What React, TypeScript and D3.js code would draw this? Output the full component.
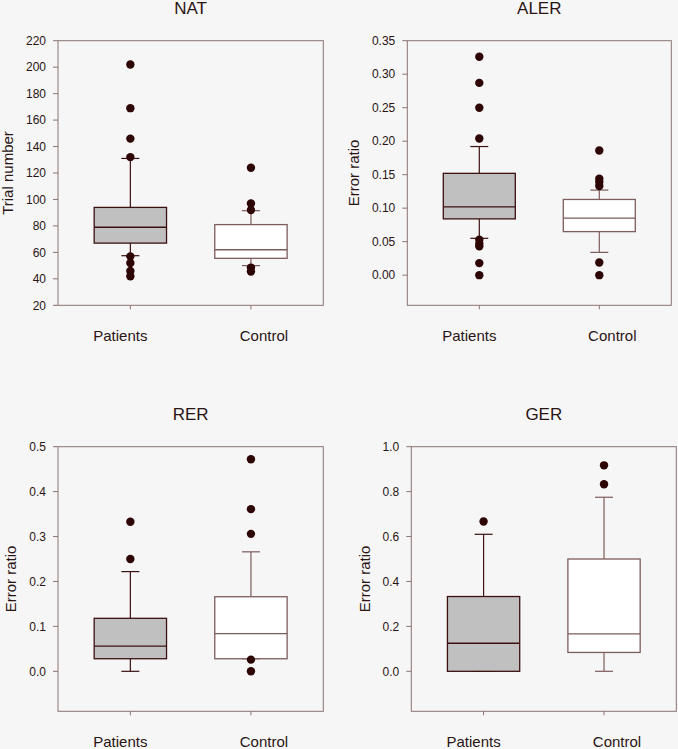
import React from "react";
import * as d3 from "d3";

const groups = ["Patients", "Control"];

// [lower whisker, Q1, median, Q3, upper whisker]
const natPatients = [57.5, 67, 79, 94, 131];
const natPatientsOut = [202, 169, 146, 132, 57, 52, 46, 42];
const natControl = [50, 55.5, 62, 81, 91.5];
const natControlOut = [124, 97, 92, 48.5, 45.5];

const alerPatients = [0.055, 0.084, 0.102, 0.152, 0.192];
const alerPatientsOut = [0.326, 0.287, 0.25, 0.204, 0.053, 0.047, 0.043, 0.018, 0];
const alerControl = [0.034, 0.065, 0.085, 0.113, 0.127];
const alerControlOut = [0.186, 0.144, 0.139, 0.133, 0.019, 0];

const rerPatients = [0, 0.028, 0.056, 0.118, 0.222];
const rerPatientsOut = [0.333, 0.25];
const rerControl = [0.028, 0.028, 0.084, 0.166, 0.266];
const rerControlOut = [0.472, 0.361, 0.306, 0.026, 0];

const gerPatients = [0, 0, 0.125, 0.333, 0.61];
const gerPatientsOut = [0.667];
const gerControl = [0, 0.084, 0.167, 0.5, 0.775];
const gerControlOut = [0.917, 0.833];

const natTicks = d3.range(20, 221, 20);
const alerTicks = d3.range(0, 0.351, 0.05);
const rerTicks = d3.range(0, 0.501, 0.1);
const gerTicks = d3.range(0, 1.001, 0.2);

const panels = [
  {
    title: "NAT", yLabel: "Trial number", domain: [20, 220], ticks: natTicks, fmt: d3.format("d"),
    boxes: [natPatients, natControl], outliers: [natPatientsOut, natControlOut],
    frame: { x0: 58, x1: 323.3, y0: 40.7, y1: 305.3 }, labelDx: -44.7,
  },
  {
    title: "ALER", yLabel: "Error ratio", domain: [-0.045, 0.35], ticks: alerTicks, fmt: d3.format(".2f"),
    boxes: [alerPatients, alerControl], outliers: [alerPatientsOut, alerControlOut],
    frame: { x0: 407.3, x1: 671.3, y0: 40.7, y1: 305.3 }, labelDx: -48.6,
  },
  {
    title: "RER", yLabel: "Error ratio", domain: [-0.089, 0.5], ticks: rerTicks, fmt: d3.format(".1f"),
    boxes: [rerPatients, rerControl], outliers: [rerPatientsOut, rerControlOut],
    frame: { x0: 58, x1: 323.3, y0: 446.7, y1: 711.3 }, labelDx: -42,
  },
  {
    title: "GER", yLabel: "Error ratio", domain: [-0.178, 1.0], ticks: gerTicks, fmt: d3.format(".1f"),
    boxes: [gerPatients, gerControl], outliers: [gerPatientsOut, gerControlOut],
    frame: { x0: 411.3, x1: 676.3, y0: 446.7, y1: 711.3 }, labelDx: -41,
  },
];

const BG = "#f6f6f6";
const FRAME = "#8b7373";
const TEXT = "#2a1414";
const DOT = "#2d0505";
const boxStyle = [
  { fill: "#c0c0c0", stroke: "#3d1010" },
  { fill: "#ffffff", stroke: "#7d5c5c" },
];
const groupLabelDx = [-10, 13];
const font = "'Liberation Sans', Arial, sans-serif";

function Panel({ p }: { p: any }) {
  const { x0, x1, y0, y1 } = p.frame;
  const x = d3.scalePoint().domain(groups).range([x0, x1]).padding(0.6);
  const y = d3.scaleLinear().domain(p.domain).range([y1, y0]);
  const bw = x.step() * 0.6;
  const cap = 18;
  return (
    <g fontFamily={font} fill={TEXT}>
      <text x={(x0 + x1) / 2} y={y0 - 26.7} textAnchor="middle" fontSize={17}>{p.title}</text>
      <rect x={x0} y={y0} width={x1 - x0} height={y1 - y0} fill="none" stroke={FRAME} strokeWidth={1} />
      {p.ticks.map((t: number) => (
        <g key={t}>
          <line x1={x0 - 5} x2={x0} y1={y(t)} y2={y(t)} stroke={FRAME} />
          <text x={x0 - 12} y={y(t)} dy="0.35em" textAnchor="end" fontSize={12}>{p.fmt(t)}</text>
        </g>
      ))}
      <text transform={`translate(${x0 + p.labelDx},${(y0 + y1) / 2}) rotate(-90)`} textAnchor="middle" fontSize={15}>
        {p.yLabel}
      </text>
      {groups.map((g, i) => {
        const cx = x(g) as number;
        const [wl, q1, med, q3, wh] = p.boxes[i];
        const st = boxStyle[i];
        return (
          <g key={g}>
            <line x1={cx} x2={cx} y1={y1} y2={y1 + 4} stroke={FRAME} />
            <text x={cx + groupLabelDx[i]} y={y1 + 36} textAnchor="middle" fontSize={15}>{g}</text>
            <line x1={cx} x2={cx} y1={y(wh)} y2={y(q3)} stroke={st.stroke} strokeWidth={1.2} />
            <line x1={cx} x2={cx} y1={y(q1)} y2={y(wl)} stroke={st.stroke} strokeWidth={1.2} />
            <line x1={cx - cap / 2} x2={cx + cap / 2} y1={y(wh)} y2={y(wh)} stroke={st.stroke} strokeWidth={1.2} />
            <line x1={cx - cap / 2} x2={cx + cap / 2} y1={y(wl)} y2={y(wl)} stroke={st.stroke} strokeWidth={1.2} />
            <rect x={cx - bw / 2} y={y(q3)} width={bw} height={y(q1) - y(q3)} fill={st.fill} stroke={st.stroke} strokeWidth={1.3} />
            <line x1={cx - bw / 2} x2={cx + bw / 2} y1={y(med)} y2={y(med)} stroke={st.stroke} strokeWidth={1.3} />
            {p.outliers[i].map((v: number, k: number) => (
              <circle key={k} cx={cx} cy={y(v)} r={4.2} fill={DOT} />
            ))}
          </g>
        );
      })}
    </g>
  );
}

export default function App() {
  return (
    <div style={{ position: "absolute", left: 0, top: 0 }}>
      <svg width={678} height={749} style={{ display: "block", background: BG }}>
        {panels.map((p) => (
          <Panel key={p.title} p={p} />
        ))}
      </svg>
    </div>
  );
}
